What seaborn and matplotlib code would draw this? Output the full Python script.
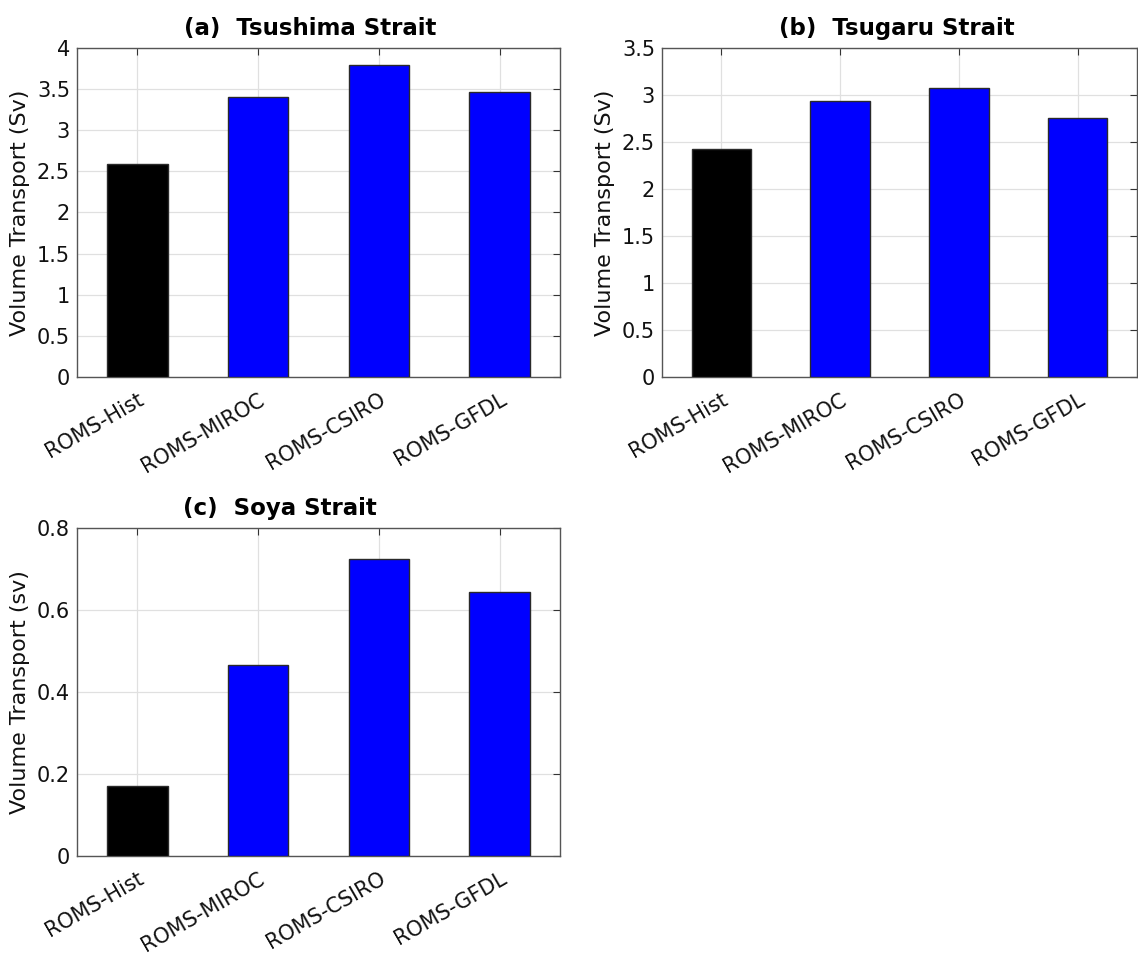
import matplotlib
matplotlib.use("Agg")
import matplotlib.pyplot as plt
import seaborn as sns
import pandas as pd
from matplotlib.ticker import FuncFormatter

categories = ["ROMS-Hist", "ROMS-MIROC", "ROMS-CSIRO", "ROMS-GFDL"]
tsushima = [2.59, 3.41, 3.79, 3.46]
tsugaru = [2.43, 2.94, 3.07, 2.75]
soya = [0.171, 0.467, 0.725, 0.645]
bar_colors = ["#000000", "#0000ff", "#0000ff", "#0000ff"]

panels = [
    ("(a)  Tsushima Strait", tsushima, "Volume Transport (Sv)", 4.0, [0, 0.5, 1, 1.5, 2, 2.5, 3, 3.5, 4]),
    ("(b)  Tsugaru Strait", tsugaru, "Volume Transport (Sv)", 3.5, [0, 0.5, 1, 1.5, 2, 2.5, 3, 3.5]),
    ("(c)  Soya Strait", soya, "Volume Transport (sv)", 0.8, [0, 0.2, 0.4, 0.6, 0.8]),
]

sns.set_theme(style="white")
plt.rcParams["font.family"] = ["DejaVu Sans"]

fig = plt.figure(figsize=(11.38, 9.55), dpi=100)
W, H = 1138, 955
boxes = [
    (77, 48, 560, 377),
    (662, 48, 1137, 377),
    (77, 528, 560, 856),
]
title_x = [0.483, 0.495, 0.42]

fmt = FuncFormatter(lambda v, p: ("%g" % v))

for (title, vals, ylabel, ymax, yticks), (l, t, r, b), tx in zip(panels, boxes, title_x):
    ax = fig.add_axes([l / W, 1 - b / H, (r - l) / W, (b - t) / H])
    df = pd.DataFrame({"model": categories, "value": vals})
    sns.barplot(data=df, x="model", y="value", hue="model", palette=bar_colors,
                width=0.5, edgecolor="#2a2a2a", linewidth=1.0, saturation=1,
                legend=False, ax=ax, zorder=3)
    ax.set_xlim(-0.5, 3.5)
    ax.set_ylim(0, ymax)
    ax.set_yticks(yticks)
    ax.yaxis.set_major_formatter(fmt)
    ax.set_xticks(range(len(categories)))
    ax.set_xticklabels(categories, rotation=30, ha="right", rotation_mode="anchor")
    ax.grid(True, color="#e0e0e0", linewidth=0.9, zorder=0)
    ax.set_axisbelow(True)
    ax.tick_params(axis="both", direction="in", length=5, width=0.8, color="#333333",
                   labelsize=15, top=True, right=True, pad=5, labelcolor="#111111")
    ax.tick_params(axis="x", pad=9)
    for s in ax.spines.values():
        s.set_color("#555555")
        s.set_linewidth(1.0)
    ax.set_xlabel("")
    ax.set_ylabel(ylabel, fontsize=16, color="#111111", labelpad=5)
    ax.set_title(title, fontsize=16.5, fontweight="bold", pad=9, color="#000000", x=tx)

fig.savefig("out.png", dpi=100)
